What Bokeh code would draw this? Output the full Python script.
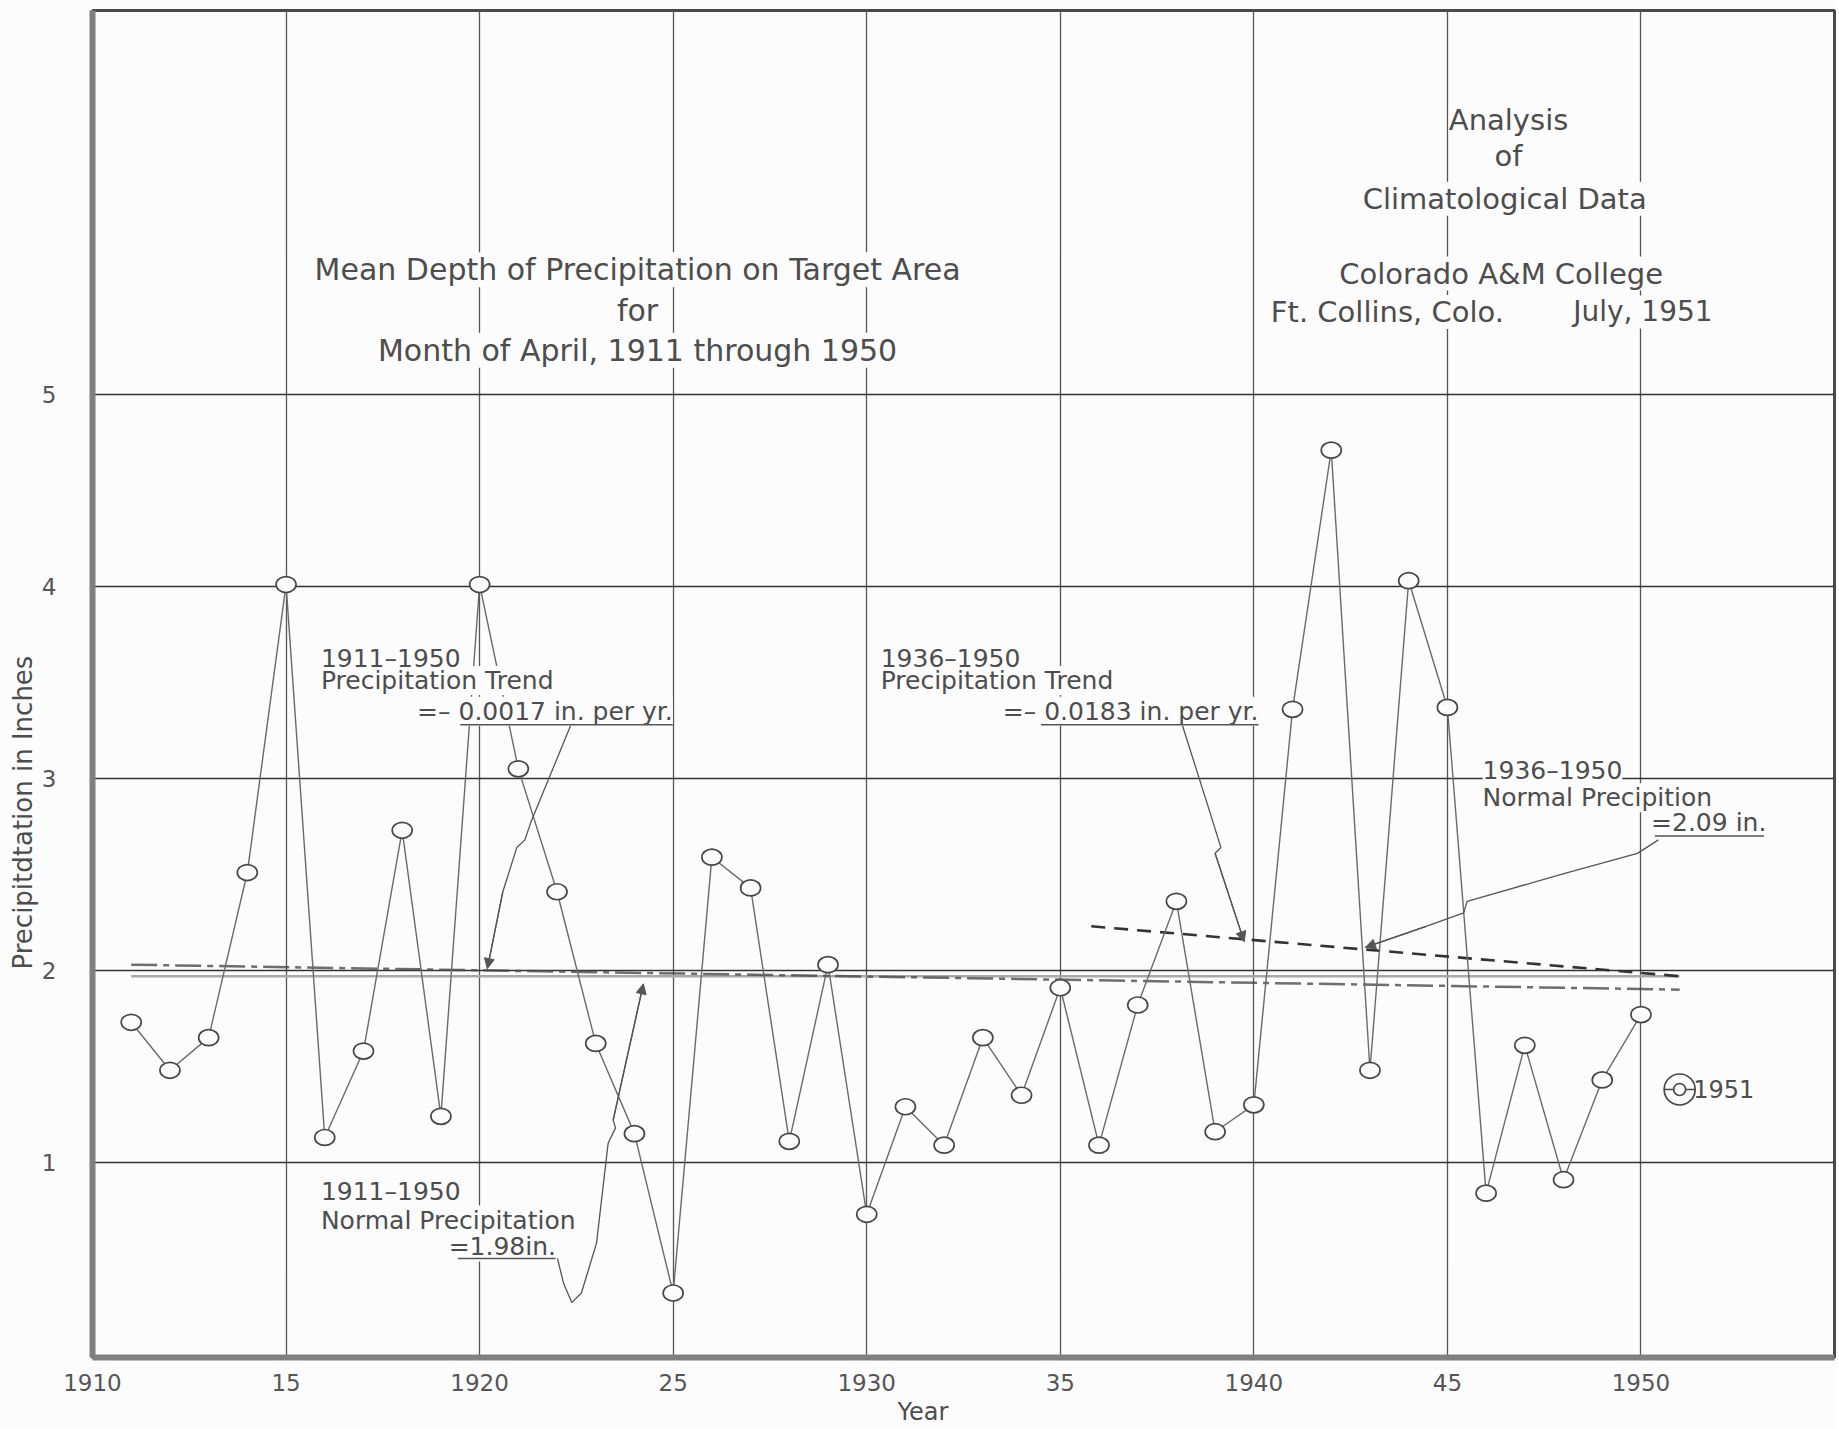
from bokeh.plotting import figure
from bokeh.models import Range1d, FixedTicker, Label, Arrow, NormalHead, Title
from bokeh.embed import file_html
from bokeh.resources import INLINE

# ---------------- data ----------------
years = list(range(1911, 1951))
precip = [1.73, 1.48, 1.65, 2.51, 4.01, 1.13, 1.58, 2.73, 1.24, 4.01,
          3.05, 2.41, 1.62, 1.15, 0.32, 2.59, 2.43, 1.11, 2.03, 0.73,
          1.29, 1.09, 1.65, 1.35, 1.91, 1.09, 1.82, 2.36, 1.16, 1.30,
          3.36, 4.71, 1.48, 4.03, 3.37, 0.84, 1.61, 0.91, 1.43, 1.77]
year_1951 = [1951]
precip_1951 = [1.38]

# reference lines
normal_all_years = [1911, 1951]
normal_all_values = [1.97, 1.97]            # 1911-1950 normal = 1.98 in.
trend_all_years = [1911, 1951]
trend_all_values = [2.03, 1.90]             # 1911-1950 trend
trend_late_years = [1935.8, 1951]
trend_late_values = [2.23, 1.97]            # 1936-1950 trend

x_ticks = [1910, 1915, 1920, 1925, 1930, 1935, 1940, 1945, 1950]
x_tick_labels = ["1910", "15", "1920", "25", "1930", "35", "1940", "45", "1950"]
y_ticks = [1, 2, 3, 4, 5]
y_tick_labels = ["1", "2", "3", "4", "5"]

# hand-drawn annotation arrows (data coordinates)
arrow1_x = [1922.36, 1921.32, 1921.17, 1920.96, 1920.60, 1920.20]
arrow1_y = [3.28, 2.77, 2.68, 2.64, 2.41, 2.01]
arrow2_x = [1922.01, 1922.17, 1922.38, 1922.63, 1923.02, 1923.32, 1923.51, 1923.45, 1924.23]
arrow2_y = [0.50, 0.37, 0.27, 0.32, 0.58, 1.10, 1.18, 1.22, 1.93]
arrow3_x = [1938.15, 1938.84, 1939.15, 1939.00, 1939.75]
arrow3_y = [3.28, 2.84, 2.64, 2.61, 2.15]
arrow4_x = [1950.45, 1949.91, 1947.94, 1945.51, 1945.42, 1944.45, 1942.88]
arrow4_y = [2.68, 2.61, 2.50, 2.36, 2.30, 2.23, 2.12]

underline_x0 = [1919.50, 1934.50, 1950.36, 1919.44]
underline_x1 = [1924.99, 1940.12, 1953.18, 1921.96]
underline_y = [3.28, 3.28, 2.70, 0.50]

BG = "#fcfcfc"
INK = "#4d4d4d"
FONT = "DejaVu Sans"

p = figure(width=1837, height=1427,
           x_range=Range1d(1910, 1955), y_range=Range1d(-0.016, 7.0),
           output_backend="svg", toolbar_location=None,
           min_border_left=92, min_border_right=3, min_border_top=10, min_border_bottom=70)
p.background_fill_color = BG
p.border_fill_color = BG
p.outline_line_color = "#4a4a4a"
p.outline_line_width = 3

# axes
p.xaxis.ticker = FixedTicker(ticks=x_ticks)
p.xaxis.major_label_overrides = {t: l for t, l in zip(x_ticks, x_tick_labels)}
p.yaxis.ticker = FixedTicker(ticks=y_ticks)
p.yaxis.major_label_overrides = {t: l for t, l in zip(y_ticks, y_tick_labels)}
for ax in (p.xaxis[0], p.yaxis[0]):
    ax.major_tick_line_color = None
    ax.minor_tick_line_color = None
    ax.major_label_text_font = FONT
    ax.major_label_text_font_size = "23px"
    ax.major_label_text_color = "#555555"
    ax.axis_line_color = "#808080"
    ax.axis_line_width = 6
p.xaxis.major_label_standoff = 10
p.yaxis.major_label_standoff = 30
p.yaxis.major_label_orientation = "horizontal"

# axis titles as side titles (so they can be offset like the original)
p.add_layout(Title(text="Year", align="left", offset=805, standoff=4,
                   text_font=FONT, text_font_size="24px", text_font_style="normal",
                   text_color=INK), "below")
p.add_layout(Title(text="Precipitdtation in Inches", align="left", offset=388, standoff=2,
                   text_font=FONT, text_font_size="26px", text_font_style="normal",
                   text_color=INK), "left")

# grid
p.xgrid.ticker = FixedTicker(ticks=x_ticks[1:])
p.xgrid.grid_line_color = "#555555"
p.xgrid.grid_line_width = 1.3
p.ygrid.ticker = FixedTicker(ticks=y_ticks)
p.ygrid.grid_line_color = "#333333"
p.ygrid.grid_line_width = 1.6

# reference lines
p.line(normal_all_years, normal_all_values, line_color="#a8a8a8", line_width=2.5)
p.line(trend_all_years, trend_all_values, line_color="#4a4a4a", line_width=2.5,
       line_dash="26 6 6 6", line_alpha=0.8)
p.line(trend_late_years, trend_late_values, line_color="#333333", line_width=2.6,
       line_dash="14 9")

# data series
p.line(years, precip, line_color="#6a6a6a", line_width=1.4)
p.ellipse(x=years, y=precip, width=20, height=16, width_units="screen",
          height_units="screen", fill_color=BG, line_color="#474747", line_width=1.7)

# 1951 target marker
p.scatter(year_1951, precip_1951, marker="circle", size=31, fill_color=BG,
          line_color="#474747", line_width=1.7)
p.scatter(year_1951, precip_1951, marker="dash", size=31, line_color="#474747", line_width=1.5)
p.scatter(year_1951, precip_1951, marker="circle", size=12, fill_color=BG,
          line_color="#474747", line_width=1.7)

# annotation arrows
for ax_, ay_ in ((arrow1_x, arrow1_y), (arrow2_x, arrow2_y), (arrow3_x, arrow3_y), (arrow4_x, arrow4_y)):
    p.line(ax_, ay_, line_color="#555555", line_width=1.3)
    p.add_layout(Arrow(end=NormalHead(size=10, fill_color="#555555", line_color="#555555"),
                       x_start=ax_[-2], y_start=ay_[-2], x_end=ax_[-1], y_end=ay_[-1],
                       line_color="#555555", line_width=1.3))


def lab(x, y, text, size, align="left", angle=0.0, bg=True):
    p.add_layout(Label(x=x, y=y, text=text, text_font=FONT, text_font_size=size,
                       text_color=INK, text_align=align, text_baseline="middle",
                       angle=angle,
                       background_fill_color=BG if bg else None))


# titles
lab(1924.08, 5.23, "Month of April, 1911 through 1950", "30px", "center")
lab(1924.08, 5.44, "for", "30px", "center")
lab(1924.08, 5.65, "Mean Depth of Precipitation on Target Area", "30px", "center")

lab(1946.48, 6.02, "Climatological Data", "29px", "center")
lab(1946.58, 6.24, "of", "29px", "center")
lab(1946.58, 6.43, "Analysis", "29px", "center")
lab(1943.45, 5.43, "Ft. Collins, Colo.", "29px", "center")
lab(1950.05, 5.43, "July, 1951", "28px", "center")
lab(1946.39, 5.63, "Colorado A&M College", "29px", "center")

# annotations (lower lines first)
lab(1924.99, 3.35, "=\u2013 0.0017 in. per yr.", "25px", "right")
lab(1915.90, 3.51, "Precipitation Trend", "25px")
lab(1915.90, 3.625, "1911\u20131950", "25px", bg=False)

lab(1940.12, 3.35, "=\u2013 0.0183 in. per yr.", "25px", "right")
lab(1930.36, 3.51, "Precipitation Trend", "25px")
lab(1930.36, 3.625, "1936\u20131950", "25px", bg=False)

lab(1953.24, 2.77, "=2.09 in.", "25px", "right")
lab(1945.91, 2.90, "Normal Precipition", "25px")
lab(1945.91, 3.04, "1936\u20131950", "25px")

lab(1919.20, 0.56, "=1.98in.", "25px")
lab(1915.90, 0.70, "Normal Precipitation", "25px")
lab(1915.90, 0.85, "1911\u20131950", "25px")

lab(1951.35, 1.38, "1951", "24px", bg=False)

# underlines drawn above the label backgrounds
ul = p.segment(x0=underline_x0, y0=underline_y, x1=underline_x1, y1=underline_y,
               line_color="#555555", line_width=1.5)
ul.level = "overlay"

open("out.html", "w").write(file_html(p, INLINE))
